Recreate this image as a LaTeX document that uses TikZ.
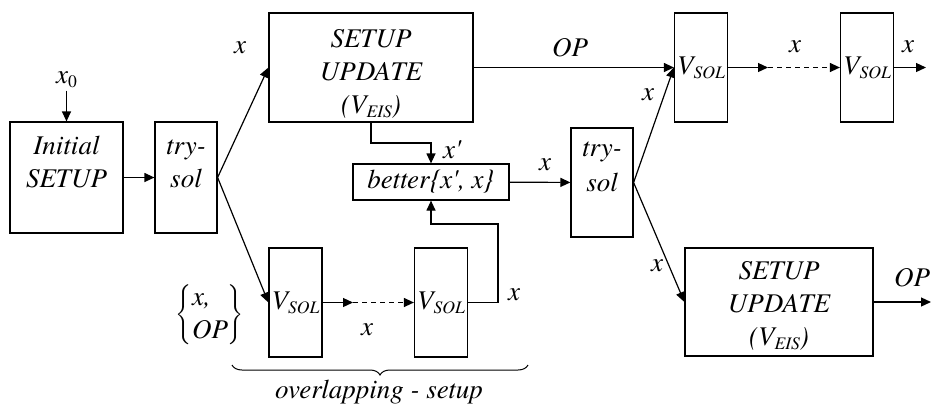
\documentclass[tikz,border=0pt]{standalone}
\usepackage{fontspec}
\setmainfont{texgyretermes}[Extension=.otf, UprightFont=*-regular, ItalicFont=*-italic, BoldFont=*-bold, BoldItalicFont=*-bolditalic]
\usetikzlibrary{arrows.meta, decorations.pathreplacing, calligraphy}
\tikzset{
	blockbox/.style={draw, line width=0.6pt, inner sep=0pt, align=center, font=\fontsize{13.5}{16.5}\selectfont\itshape}
}
\tikzset{
	boxtext/.style={anchor=north, inner sep=0pt, align=center, font=\fontsize{13.5}{16.5}\selectfont\itshape}
}
\tikzset{
	sigtext/.style={font=\fontsize{13.5}{16.5}\selectfont\itshape, inner sep=1pt}
}
\tikzset{
	flow/.style={line width=0.6pt, -{Triangle[length=5pt,width=4.5pt]}}
}
\newcommand{\vsub}[2]{#1\raisebox{-0.35ex}{\fontsize{8.8}{9}\selectfont #2}}

\begin{document}
\begin{tikzpicture}[x=0.5pt, y=-0.5pt]
      \useasboundingbox (0,0) rectangle (932,403);
      % blocks, text set from the top
      \node[blockbox, minimum width=56.5pt, minimum height=55.5pt,
        label={[boxtext, yshift=-5pt]north:\strut Initial\\SETUP}] (init) at (66.5,177.5) {};
      \node[blockbox, minimum width=31pt, minimum height=55.5pt,
        label={[boxtext, yshift=-5pt]north:\strut try-\\sol}] (tryA) at (186,177.5) {};
      \node[blockbox, minimum width=31pt, minimum height=54.5pt,
        label={[boxtext, yshift=-3pt]north:\strut try-\\[1pt]sol}] (tryB) at (602,182.5) {};
      \node[blockbox, minimum width=102pt, minimum height=54.5pt,
        label={[boxtext, yshift=-6pt]north:\strut SETUP\\UPDATE\\(\vsub{V}{EIS})}] (updA) at (371,67.5) {};
      \node[blockbox, minimum width=94pt, minimum height=54pt,
        label={[boxtext, yshift=-4.5pt]north:\strut SETUP\\UPDATE\\(\vsub{V}{EIS})}] (updB) at (779,302) {};
      \node[blockbox, minimum width=78pt, minimum height=18pt] (better) at (431,182) {better\{x\textquotesingle, x\}};
      \foreach \n/\x/\y in {solA/295.5/302.5, solB/441/302.5, solC/701/67.5, solD/867/67.5}
        \node[blockbox, minimum width=26.5pt, minimum height=54.5pt] (\n) at (\x,\y) {\vsub{V}{SOL}};
      % signal labels
      \node[sigtext] (lblXnull) at (66.5,80) {\vsub{x}{\upshape 0}};
      \foreach \n/\x/\y/\t in {lblXa/240/48/x, lblXb/367/330/x, lblXc/514/295/x, lblXd/545/165/x,
        lblXe/648/95/x, lblXf/795/47/x, lblXg/908/47/x, lblXh/657/266/x,
        lblOPa/570/48/OP, lblOPb/912/278/OP}
        \node[sigtext] (\n) at (\x,\y) {\t};
      \node[sigtext] (lblXprime) at (452,150) {x\textquotesingle};
      \node[sigtext] (lblSet) at (210,315) {$\left\{\vcenter{\hbox{\begin{tabular}{@{}l@{}}\itshape x,\\ \itshape OP\end{tabular}}}\right\}$};
      % connectors
      \draw[flow] (lblXnull) -- (init);
      \draw[flow] (init) -- (tryA);
      \draw[flow] (tryA.east) -- (updA.west);
      \draw[flow] (tryA.east) -- (solA.west);
      \coordinate (dashA) at (353,302.5);
      \draw[flow] (solA) -- (dashA);
      \draw[flow, dash pattern=on 2.5pt off 2pt] (dashA) -- (solB);
      \coordinate (loopB) at (498,224);
      \draw[flow] (solB.east) -| (loopB) -| (better.south);
      \coordinate (bendA) at (431,143);
      \draw[flow] (updA.south) |- (bendA) -- (better.north);
      \draw[flow] (better) -- (tryB);
      \draw[flow] (tryB.east) -- (solC.west);
      \draw[flow] (updA) -- (solC);
      \coordinate (dashC) at (768,67.5);
      \draw[flow] (solC) -- (dashC);
      \draw[flow, dash pattern=on 2.5pt off 2pt] (dashC) -- (solD);
      \coordinate (outD) at (926,67.5);
      \draw[flow] (solD) -- (outD);
      \draw[flow] (tryB.east) -- (updB.west);
      \coordinate (outB) at (931,302);
      \draw[flow] (updB) -- (outB);
      % overlapping part
      \draw[line width=0.5pt, decorate, decoration={brace, mirror, amplitude=5pt}] (232,365) -- (528,365);
      \node[sigtext] (lblOverlap) at (379,392) {overlapping - setup};
    \end{tikzpicture}
\end{document}
